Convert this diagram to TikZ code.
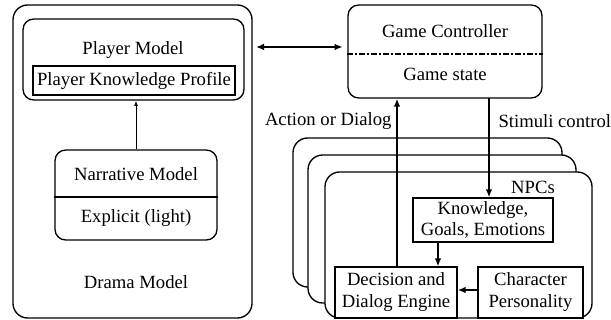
\documentclass[tikz,border=0pt]{standalone}
\usepackage{fontspec}
\setmainfont{Liberation Serif}
\usetikzlibrary{arrows.meta}

\tikzset{every picture/.style={line width=0.75pt}}
\tikzset{
  rbox/.style={draw, line width=1pt, rounded corners=11pt, fill=white, inner sep=0pt},
  sbox/.style={draw, line width=1pt, fill=white, inner sep=0pt, align=center},
  lbl/.style={inner sep=0.75pt, font=\fontsize{14}{16}\selectfont, align=center},
  flow/.style={line width=1.3pt, -{Latex[length=6pt,width=5pt]}},
}

\begin{document}
\begin{tikzpicture}[x=0.75pt,y=0.75pt,yscale=-1,xscale=1]
\useasboundingbox (0,0) rectangle (611,320);

%Shape: Rounded Rect [drama model]
\node [rbox, minimum width=179.25pt, minimum height=234.75pt] (drama) at (132.5,161.5) {};
%Shape: Rounded Rect [player model]
\node [rbox, rounded corners=8pt, minimum width=165.75pt, minimum height=60.75pt] (player) at (133.5,59.5) {};
%Shape: Rectangle [knowledge profile]
\node [sbox, minimum width=151.5pt, minimum height=21.75pt, font=\fontsize{14}{16}\selectfont] (profile) at (134,80.5) {Player Knowledge Profile};
%Shape: Rounded Rect [narrative model]
\node [rbox, rounded corners=8pt, minimum width=121.5pt, minimum height=67.5pt] (narr) at (136,195) {};
\draw [line width=1pt] (narr.west |- 0,197) -- (narr.east |- 0,197) ;
%Shape: Rounded Rect [game controller]
\node [rbox, rounded corners=8pt, minimum width=145.5pt, minimum height=69.75pt] (game) at (445,51.5) {};
\draw [line width=1pt, dash pattern={on 4pt off 2pt on 1pt off 2pt}] (game.west |- 0,54) -- (game.east |- 0,54) ;

%Shape: Rounded Rect [npc stack]
\node [rbox, minimum width=201.75pt, minimum height=111.75pt] (npcA) at (427.5,212.5) {};
\node [rbox, minimum width=201pt, minimum height=111pt] (npcB) at (442,229) {};
\node [rbox, minimum width=200.25pt, minimum height=109.5pt] (npcC) at (458.5,245) {};
%Shape: Rectangle [inner boxes]
\node [sbox, minimum width=105pt, minimum height=33pt, font=\fontsize{14}{16}\selectfont] (know) at (483,220) {Knowledge,\\Goals, Emotions};
\node [sbox, minimum width=91.5pt, minimum height=38.25pt, font=\fontsize{14}{16.5}\selectfont] (dec) at (396,292.5) {Decision and\\Dialog Engine};
\node [sbox, minimum width=78.75pt, minimum height=38.25pt, font=\fontsize{14}{16.5}\selectfont] (char) at (530.5,292.5) {Character\\Personality};

% Text Node
\node [lbl] (tplayer) at (133,50) {Player Model};
% Text Node
\node [lbl] (tnarr) at (136,174) {Narrative Model};
% Text Node
\node [lbl] (texpl) at (136,218) {Explicit (light)};
% Text Node
\node [lbl] (tdrama) at (136,282) {Drama Model};
% Text Node
\node [lbl] (tgame) at (445,31) {Game Controller};
% Text Node
\node [lbl] (tstate) at (445,74) {Game state};
% Text Node
\node [lbl] (tnpc) at (533,187) {NPCs};
% Text Node
\node [lbl, anchor=east] (tact) at (393,121) {Action or Dialog};
% Text Node
\node [lbl, anchor=west] (tstim) at (497,121) {Stimuli control};

%Straight Lines [connectors]
\coordinate (da) at (0,47);
\coordinate (stim) at (489,98);
\coordinate (kd) at (438,242);
\draw [line width=1.3pt, {Latex[length=6pt,width=5pt]}-{Latex[length=6pt,width=5pt]}, shorten <=2.5pt, shorten >=3.5pt] (drama.east |- da) -- (game.west |- da) ;
\draw [line width=0.75pt, -{Latex[length=4pt,width=3pt]}] (narr.north) -- (narr.north |- player.south) ;
\draw [flow] (dec.north -| 397,0) -- (game.south -| 397,0) ;
\draw [flow] (stim) -- (stim |- know.north) ;
\draw [flow] (kd) -- (kd |- dec.north) ;
\draw [flow] (char.west |- 0,290) -- (dec.east |- 0,290) ;

\end{tikzpicture}
\end{document}
